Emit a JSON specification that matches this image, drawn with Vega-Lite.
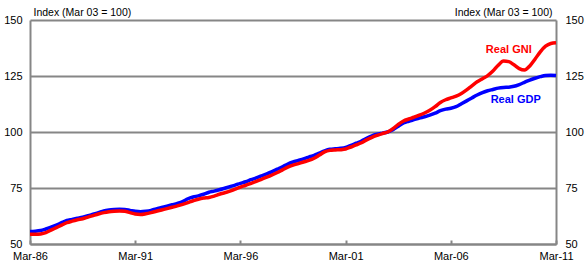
{
  "$schema": "https://vega.github.io/schema/vega-lite/v6.json",
  "width": 526,
  "height": 224,
  "autosize": "none",
  "padding": {"left": 30, "top": 20, "right": 29, "bottom": 21},
  "config": {
    "view": {"stroke": null},
    "font": "Liberation Sans",
    "axis": {"labelFont": "Liberation Sans", "titleFont": "Liberation Sans", "labelColor": "#000000", "titleColor": "#000000", "labelFontSize": 11, "titleFontSize": 10.5, "titleFontWeight": "normal"}
  },
  "datasets": {
    "series": [
      {"d": "1986-03", "gdp": 55.6, "gni": 54.3},
      {"d": "1986-06", "gdp": 55.7, "gni": 54.3},
      {"d": "1986-09", "gdp": 56.0, "gni": 54.5},
      {"d": "1986-12", "gdp": 56.7, "gni": 55.1},
      {"d": "1987-03", "gdp": 57.5, "gni": 56.2},
      {"d": "1987-06", "gdp": 58.4, "gni": 57.3},
      {"d": "1987-09", "gdp": 59.5, "gni": 58.4},
      {"d": "1987-12", "gdp": 60.5, "gni": 59.5},
      {"d": "1988-03", "gdp": 61.0, "gni": 60.2},
      {"d": "1988-06", "gdp": 61.5, "gni": 60.8},
      {"d": "1988-09", "gdp": 62.0, "gni": 61.3},
      {"d": "1988-12", "gdp": 62.6, "gni": 62.0},
      {"d": "1989-03", "gdp": 63.3, "gni": 62.7},
      {"d": "1989-06", "gdp": 64.0, "gni": 63.4},
      {"d": "1989-09", "gdp": 64.8, "gni": 64.0},
      {"d": "1989-12", "gdp": 65.2, "gni": 64.4},
      {"d": "1990-03", "gdp": 65.4, "gni": 64.6},
      {"d": "1990-06", "gdp": 65.5, "gni": 64.7},
      {"d": "1990-09", "gdp": 65.4, "gni": 64.6},
      {"d": "1990-12", "gdp": 65.0, "gni": 64.0},
      {"d": "1991-03", "gdp": 64.6, "gni": 63.4},
      {"d": "1991-06", "gdp": 64.4, "gni": 63.2},
      {"d": "1991-09", "gdp": 64.6, "gni": 63.5},
      {"d": "1991-12", "gdp": 65.0, "gni": 64.0},
      {"d": "1992-03", "gdp": 65.7, "gni": 64.6},
      {"d": "1992-06", "gdp": 66.3, "gni": 65.2},
      {"d": "1992-09", "gdp": 66.9, "gni": 65.8},
      {"d": "1992-12", "gdp": 67.5, "gni": 66.4},
      {"d": "1993-03", "gdp": 68.1, "gni": 67.0},
      {"d": "1993-06", "gdp": 68.9, "gni": 67.7},
      {"d": "1993-09", "gdp": 70.2, "gni": 68.5},
      {"d": "1993-12", "gdp": 71.0, "gni": 69.3},
      {"d": "1994-03", "gdp": 71.5, "gni": 70.0},
      {"d": "1994-06", "gdp": 72.2, "gni": 70.5},
      {"d": "1994-09", "gdp": 73.1, "gni": 70.8},
      {"d": "1994-12", "gdp": 73.6, "gni": 71.4},
      {"d": "1995-03", "gdp": 74.2, "gni": 72.2},
      {"d": "1995-06", "gdp": 74.9, "gni": 72.9},
      {"d": "1995-09", "gdp": 75.6, "gni": 73.6},
      {"d": "1995-12", "gdp": 76.3, "gni": 74.5},
      {"d": "1996-03", "gdp": 77.1, "gni": 75.4},
      {"d": "1996-06", "gdp": 77.8, "gni": 76.2},
      {"d": "1996-09", "gdp": 78.7, "gni": 77.1},
      {"d": "1996-12", "gdp": 79.5, "gni": 78.0},
      {"d": "1997-03", "gdp": 80.4, "gni": 78.9},
      {"d": "1997-06", "gdp": 81.3, "gni": 79.8},
      {"d": "1997-09", "gdp": 82.3, "gni": 80.8},
      {"d": "1997-12", "gdp": 83.4, "gni": 81.9},
      {"d": "1998-03", "gdp": 84.5, "gni": 83.1},
      {"d": "1998-06", "gdp": 85.7, "gni": 84.3},
      {"d": "1998-09", "gdp": 86.6, "gni": 85.2},
      {"d": "1998-12", "gdp": 87.3, "gni": 85.9},
      {"d": "1999-03", "gdp": 88.0, "gni": 86.6},
      {"d": "1999-06", "gdp": 88.8, "gni": 87.3},
      {"d": "1999-09", "gdp": 89.6, "gni": 88.3},
      {"d": "1999-12", "gdp": 90.6, "gni": 89.7},
      {"d": "2000-03", "gdp": 91.6, "gni": 91.1},
      {"d": "2000-06", "gdp": 92.3, "gni": 91.8},
      {"d": "2000-09", "gdp": 92.5, "gni": 92.0},
      {"d": "2000-12", "gdp": 92.7, "gni": 92.1},
      {"d": "2001-03", "gdp": 93.1, "gni": 92.4},
      {"d": "2001-06", "gdp": 94.0, "gni": 93.3},
      {"d": "2001-09", "gdp": 95.0, "gni": 94.2},
      {"d": "2001-12", "gdp": 96.0, "gni": 95.2},
      {"d": "2002-03", "gdp": 97.2, "gni": 96.5},
      {"d": "2002-06", "gdp": 98.3, "gni": 97.6},
      {"d": "2002-09", "gdp": 99.0, "gni": 98.5},
      {"d": "2002-12", "gdp": 99.5, "gni": 99.3},
      {"d": "2003-03", "gdp": 100.0, "gni": 100.0},
      {"d": "2003-06", "gdp": 101.0, "gni": 101.5},
      {"d": "2003-09", "gdp": 102.6, "gni": 103.4},
      {"d": "2003-12", "gdp": 104.0, "gni": 104.9},
      {"d": "2004-03", "gdp": 104.8, "gni": 105.8},
      {"d": "2004-06", "gdp": 105.5, "gni": 106.6},
      {"d": "2004-09", "gdp": 106.2, "gni": 107.5},
      {"d": "2004-12", "gdp": 106.8, "gni": 108.5},
      {"d": "2005-03", "gdp": 107.5, "gni": 109.7},
      {"d": "2005-06", "gdp": 108.4, "gni": 111.3},
      {"d": "2005-09", "gdp": 109.5, "gni": 113.2},
      {"d": "2005-12", "gdp": 110.2, "gni": 114.4},
      {"d": "2006-03", "gdp": 110.6, "gni": 115.2},
      {"d": "2006-06", "gdp": 111.3, "gni": 116.0},
      {"d": "2006-09", "gdp": 112.6, "gni": 117.2},
      {"d": "2006-12", "gdp": 113.9, "gni": 118.8},
      {"d": "2007-03", "gdp": 115.2, "gni": 120.6},
      {"d": "2007-06", "gdp": 116.5, "gni": 122.4},
      {"d": "2007-09", "gdp": 117.6, "gni": 123.8},
      {"d": "2007-12", "gdp": 118.4, "gni": 125.2},
      {"d": "2008-03", "gdp": 119.0, "gni": 127.2},
      {"d": "2008-06", "gdp": 119.6, "gni": 129.8},
      {"d": "2008-09", "gdp": 119.9, "gni": 131.7},
      {"d": "2008-12", "gdp": 120.0, "gni": 131.4},
      {"d": "2009-03", "gdp": 120.4, "gni": 130.0},
      {"d": "2009-06", "gdp": 121.2, "gni": 128.3},
      {"d": "2009-09", "gdp": 122.2, "gni": 127.7},
      {"d": "2009-12", "gdp": 123.2, "gni": 129.5},
      {"d": "2010-03", "gdp": 124.0, "gni": 132.5},
      {"d": "2010-06", "gdp": 124.7, "gni": 135.8},
      {"d": "2010-09", "gdp": 125.2, "gni": 138.3},
      {"d": "2010-12", "gdp": 125.3, "gni": 139.5},
      {"d": "2011-03", "gdp": 125.2, "gni": 139.8}
    ],
    "labels": [
      {"d": "2008-12", "v": 135.3, "label": "Real GNI", "series": "gni"},
      {"d": "2009-04", "v": 113.0, "label": "Real GDP", "series": "gdp"}
    ]
  },
  "resolve": {"scale": {"y": "independent"}},
  "layer": [
    {
      "data": {"name": "series"},
      "mark": {"type": "line", "color": "#0000FF", "strokeWidth": 3.5, "interpolate": "monotone"},
      "encoding": {
        "x": {"field": "d", "type": "temporal",
          "scale": {"type": "utc", "domain": [{"year": 1986, "month": 3, "date": 1, "utc": true}, {"year": 2011, "month": 3, "date": 1, "utc": true}]},
          "axis": {"title": null, "format": "%b-%y", "orient": "bottom",
            "values": [{"year": 1986, "month": 3, "date": 1, "utc": true}, {"year": 1991, "month": 3, "date": 1, "utc": true}, {"year": 1996, "month": 3, "date": 1, "utc": true}, {"year": 2001, "month": 3, "date": 1, "utc": true}, {"year": 2006, "month": 3, "date": 1, "utc": true}, {"year": 2011, "month": 3, "date": 1, "utc": true}],
            "grid": false, "domainColor": "#868686", "domainWidth": 2, "tickColor": "#868686", "tickWidth": 2, "tickSize": -4, "labelPadding": 10, "labelFlush": false}},
        "y": {"field": "gdp", "type": "quantitative",
          "scale": {"domain": [50, 150], "nice": false, "zero": false},
          "axis": {"orient": "left", "values": [50, 75, 100, 125, 150], "grid": true, "gridColor": "#868686", "gridWidth": 2,
            "domainColor": "#868686", "domainWidth": 2, "ticks": false, "labelPadding": 8,
            "title": "Index (Mar 03 = 100)", "titleAngle": 0, "titleAlign": "left", "titleBaseline": "alphabetic", "titleX": 3, "titleY": -5}}
      }
    },
    {
      "data": {"name": "series"},
      "mark": {"type": "line", "color": "#FF0000", "strokeWidth": 3.5, "interpolate": "monotone"},
      "encoding": {
        "x": {"field": "d", "type": "temporal"},
        "y": {"field": "gni", "type": "quantitative",
          "scale": {"domain": [50, 150], "nice": false, "zero": false},
          "axis": {"orient": "right", "values": [50, 75, 100, 125, 150], "grid": false,
            "domainColor": "#868686", "domainWidth": 2, "ticks": false, "labelPadding": 9,
            "title": "Index (Mar 03 = 100)", "titleAngle": 0, "titleAlign": "right", "titleBaseline": "alphabetic", "titleX": -4, "titleY": -5}}
      }
    },
    {
      "data": {"name": "labels"},
      "mark": {"type": "text", "fontWeight": "bold", "fontSize": 11, "font": "Liberation Sans", "align": "center", "baseline": "alphabetic"},
      "encoding": {
        "x": {"field": "d", "type": "temporal"},
        "y": {"field": "v", "type": "quantitative", "scale": {"domain": [50, 150], "nice": false, "zero": false}, "axis": null},
        "text": {"field": "label"},
        "color": {"field": "series", "type": "nominal", "scale": {"domain": ["gni", "gdp"], "range": ["#FF0000", "#0000FF"]}, "legend": null}
      }
    }
  ]
}
